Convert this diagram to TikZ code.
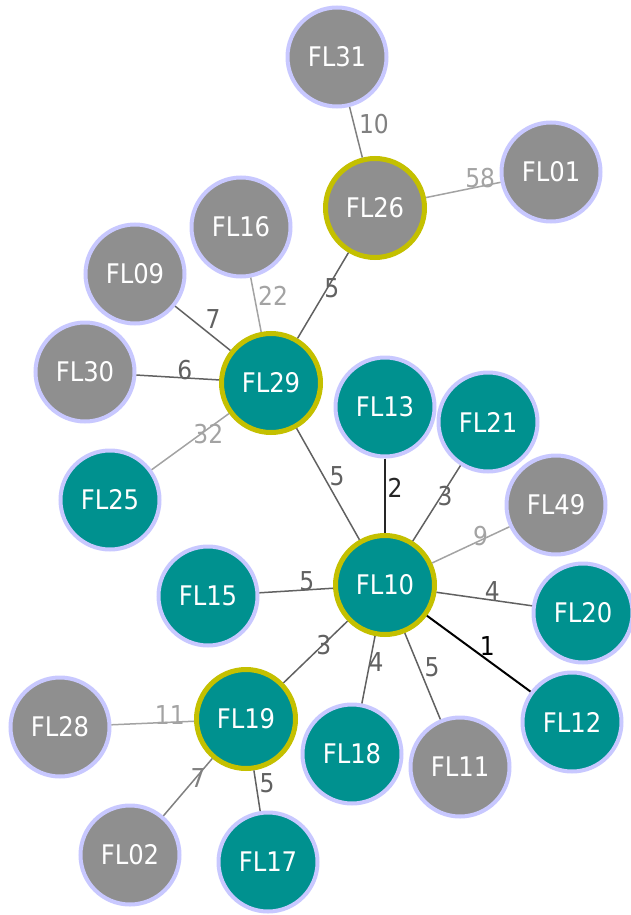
\documentclass[tikz,border=0pt]{standalone}
\usepackage{fontspec}
\setmainfont{DejaVu Sans}[FakeStretch=0.9]
\definecolor{flteal}{HTML}{00918F}
\definecolor{flgray}{HTML}{8F8F8F}
\definecolor{flring}{HTML}{C8C8FF}
\definecolor{flhub}{HTML}{C4C000}
\usetikzlibrary{positioning}

\tikzset{
  isolate/.style={circle, minimum size=99pt, inner sep=0pt, line width=4pt,
    draw=flring, text=white, font=\fontsize{27}{27}\selectfont},
  tealfill/.style={isolate, fill=flteal},
  grayfill/.style={isolate, fill=flgray},
  hub/.style={draw=flhub, line width=5pt},
  lbl/.style={inner sep=0pt, font=\fontsize{26}{26}\selectfont},
  wone/.style={black, line width=2pt},
  wtwo/.style={black!85, line width=1.6pt},
  wlow/.style={black!62, line width=1.5pt},
  wmid/.style={black!50, line width=1.5pt},
  whigh/.style={black!36, line width=1.5pt}
}

\begin{document}
\begin{tikzpicture}[x=1pt, y=-1pt]
  \useasboundingbox (0,0) rectangle (631,915);

  % Isolates
  \node[grayfill] (fl31) at (337,57) {FL31};
  \node[grayfill] (fl01) at (551,172) {FL01};
  \node[grayfill, hub] (fl26) at (375,208) {FL26};
  \node[grayfill] (fl16) at (241,227) {FL16};
  \node[grayfill] (fl09) at (135,274) {FL09};
  \node[grayfill] (fl30) at (85,372) {FL30};
  \node[tealfill, hub] (fl29) at (271,383) {FL29};
  \node[tealfill] (fl25) at (110,500) {FL25};
  \node[tealfill] (fl13) at (385,407) {FL13};
  \node[tealfill] (fl21) at (488,422) {FL21};
  \node[grayfill] (fl49) at (556,505) {FL49};
  \node[tealfill, hub] (fl10) at (385,585) {FL10};
  \node[tealfill] (fl15) at (208,596) {FL15};
  \node[tealfill] (fl20) at (583,613) {FL20};
  \node[grayfill] (fl28) at (60,727) {FL28};
  \node[tealfill, hub] (fl19) at (246,719) {FL19};
  \node[tealfill] (fl12) at (572,722) {FL12};
  \node[tealfill] (fl18) at (352,754) {FL18};
  \node[grayfill] (fl11) at (460,767) {FL11};
  \node[grayfill] (fl02) at (130,855) {FL02};
  \node[tealfill] (fl17) at (268,862) {FL17};

  % Distances
  \draw[wmid] (fl31) -- node[lbl, pos=.43, xshift=18.9pt, yshift=4.8pt] {10} (fl26);
  \draw[whigh] (fl26) -- node[lbl, pos=.75, xshift=-1.7pt, yshift=8.2pt] {58} (fl01);
  \draw[wlow] (fl26) -- node[lbl, pos=.39, xshift=3.3pt, yshift=-2pt] {5} (fl29);
  \draw[whigh] (fl16) -- node[lbl, pos=.40, xshift=18.1pt, yshift=3.5pt] {22} (fl29);
  \draw[wlow] (fl09) -- node[lbl, pos=.53, xshift=8.6pt, yshift=10.7pt] {7} (fl29);
  \draw[wlow] (fl30) -- node[lbl, pos=.58, xshift=.5pt, yshift=7.9pt] {6} (fl29);
  \draw[whigh] (fl25) -- node[lbl, pos=.70, xshift=2.5pt, yshift=-3.4pt] {32} (fl29);
  \draw[wlow] (fl29) -- node[lbl, pos=.48, xshift=10.2pt, yshift=5.8pt] {5} (fl10);
  \draw[wtwo] (fl13) -- node[lbl, pos=.39, xshift=10pt] {2} (fl10);
  \draw[wlow] (fl21) -- node[lbl, pos=.38, xshift=2.7pt, yshift=-1.7pt] {3} (fl10);
  \draw[whigh] (fl49) -- node[lbl, pos=.35, xshift=-1.7pt, yshift=3.7pt] {9} (fl10);
  \draw[wlow] (fl15) -- node[lbl, pos=.65, xshift=-.6pt, yshift=8.8pt] {5} (fl10);
  \draw[wlow] (fl10) -- node[lbl, pos=.57, xshift=1.3pt, yshift=9pt] {4} (fl20);
  \draw[wone] (fl10) -- node[lbl, pos=.52, xshift=6.6pt, yshift=8.9pt] {1} (fl12);
  \draw[wlow] (fl10) -- node[lbl, pos=.38, xshift=.5pt, yshift=-.7pt] {3} (fl19);
  \draw[wlow] (fl10) -- node[lbl, pos=.37, xshift=5.8pt, yshift=-1.1pt] {4} (fl18);
  \draw[wlow] (fl10) -- node[lbl, pos=.45, xshift=11.3pt, yshift=4.7pt] {5} (fl11);
  \draw[whigh] (fl28) -- node[lbl, pos=.71, xshift=-.3pt, yshift=7.3pt] {11} (fl19);
  \draw[wmid] (fl02) -- node[lbl, pos=.68, xshift=1.4pt, yshift=-1.1pt] {7} (fl19);
  \draw[wlow] (fl19) -- node[lbl, pos=.35, xshift=10.9pt, yshift=1.6pt] {5} (fl17);
\end{tikzpicture}
\end{document}
